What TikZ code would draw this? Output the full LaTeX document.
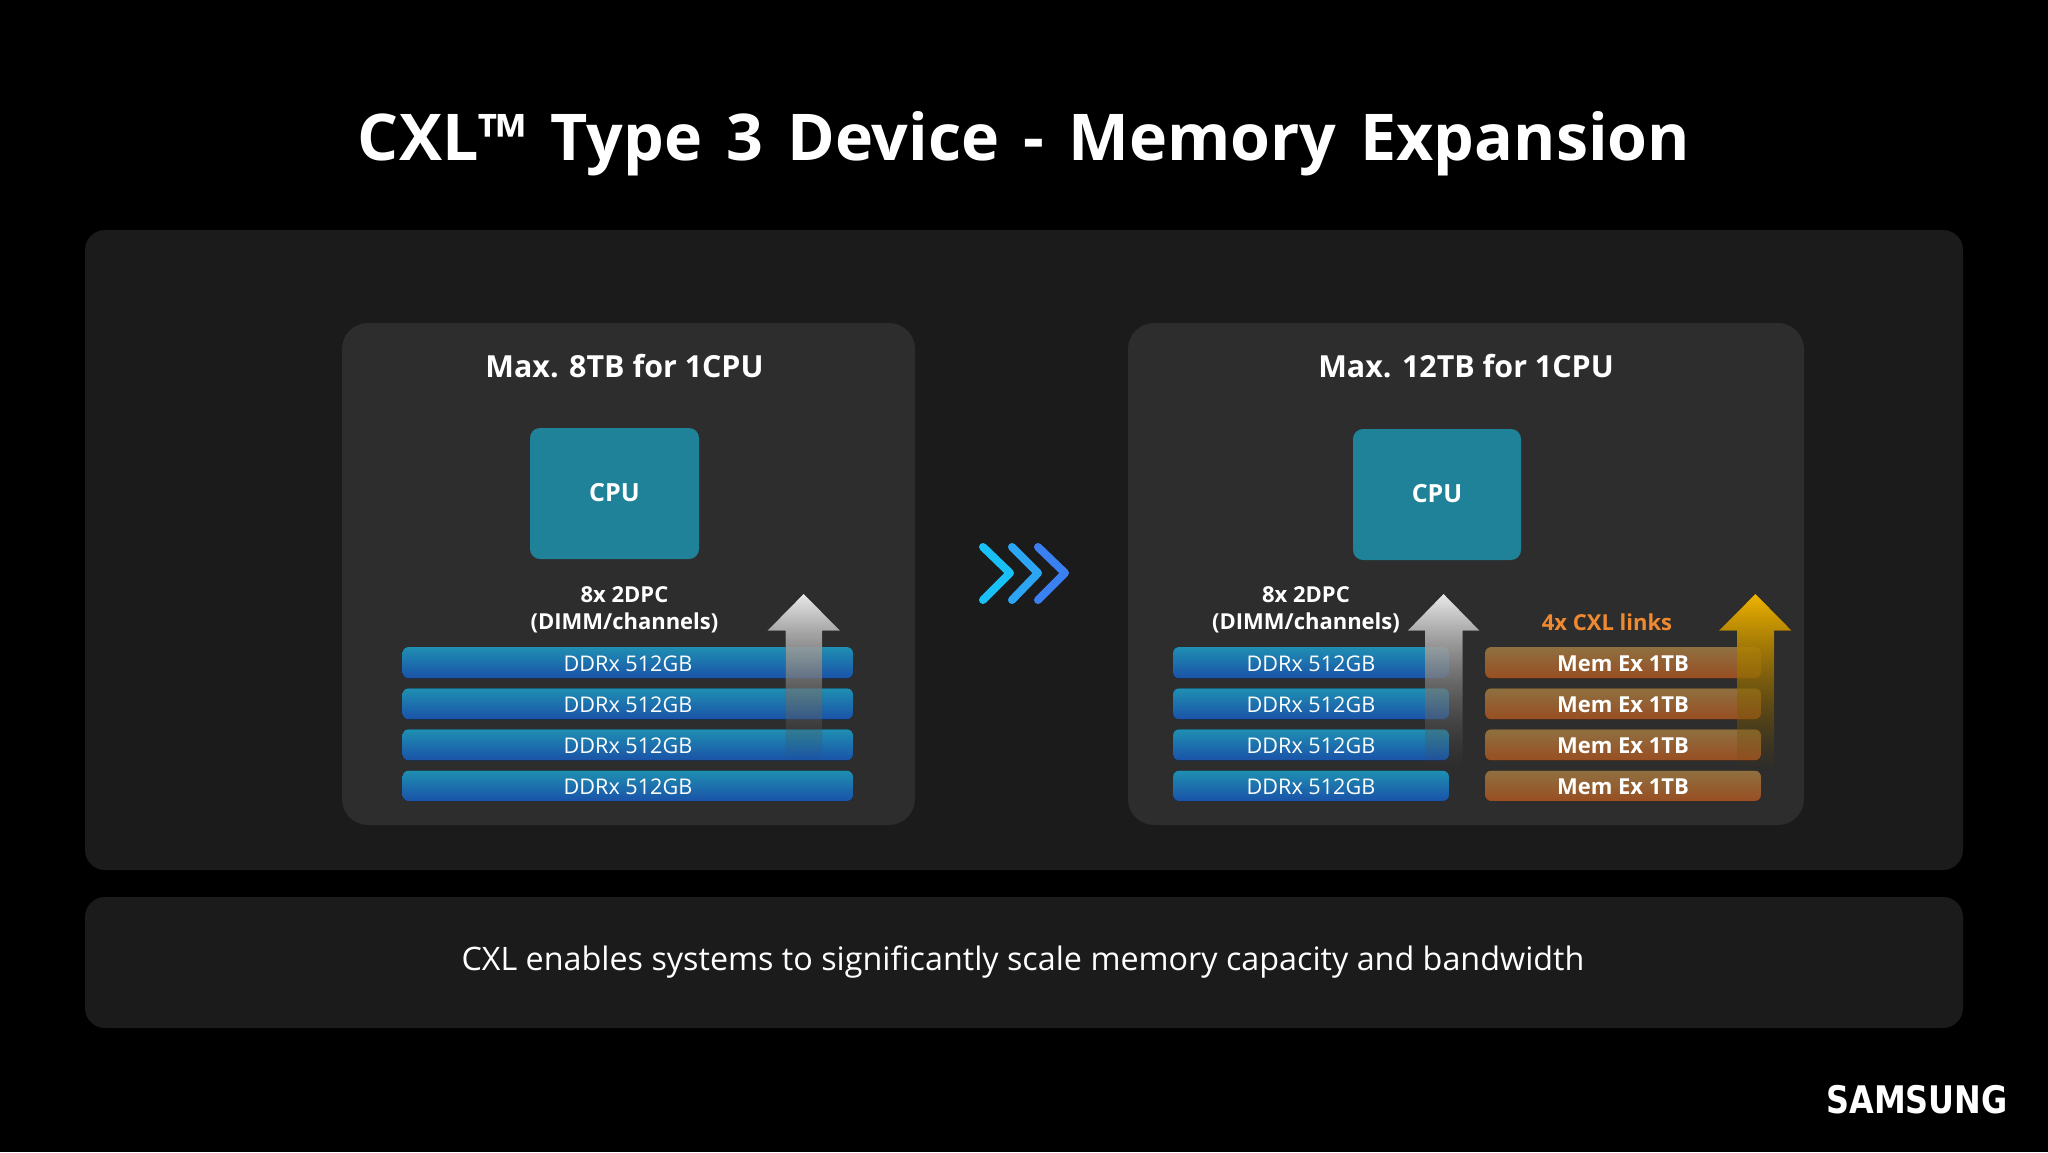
\documentclass[tikz,border=0pt]{standalone}
\usepackage{fontspec}
\setmainfont{Open Sans}
\newfontfamily\logofont{DejaVu Sans}
\usetikzlibrary{fadings}
\definecolor{bgblack}{HTML}{000000}
\definecolor{outerpanel}{HTML}{1B1B1B}
\definecolor{innerpanel}{HTML}{2D2D2D}
\definecolor{cpuc}{HTML}{1F8299}
\definecolor{ddrtop}{HTML}{1F8FB2}
\definecolor{ddrbot}{HTML}{1A52A8}
\definecolor{memtop}{HTML}{8F7040}
\definecolor{membot}{HTML}{984E22}
\definecolor{cxlorange}{HTML}{F08A30}
\definecolor{goldtop}{HTML}{F0B400}
\definecolor{goldbot}{HTML}{C08A10}
\newcommand{\fs}[1]{\fontsize{#1}{#1}\selectfont}
\tikzfading[name=arrowfade, top color=transparent!0, bottom color=transparent!100]
\tikzset{
  x=1pt,y=-1pt,
  outerbox/.style={fill=outerpanel,rounded corners=20pt},
  innerbox/.style={fill=innerpanel,rounded corners=26pt},
  cpubox/.style={fill=cpuc,rounded corners=10pt},
  ddrbar/.style={rounded corners=6pt,top color=ddrtop,bottom color=ddrbot},
  membar/.style={rounded corners=6pt,top color=memtop,bottom color=membot},
  lbl/.style={text=white,inner sep=0pt,align=center},
  whitearrow/.style={top color=white!92!black,bottom color=white!55!black,path fading=arrowfade},
  goldarrow/.style={top color=goldtop,bottom color=goldbot,path fading=arrowfade},
  chev/.style={line width=8pt,line cap=round,line join=round},
}
\begin{document}
\begin{tikzpicture}
\fill[bgblack] (0,0) rectangle (2048,1152);
\useasboundingbox (0,0) rectangle (2048,1152);
\node[lbl,font=\fs{64.5}\bfseries] (title) at (1024,144) {\spaceskip=24pt CXL™ Type 3 Device - Memory Expansion};
% panels
\fill[outerbox] (85,230) rectangle (1963,870);
\fill[outerbox] (85,897) rectangle (1963,1028);
\node[lbl,font=\fs{32.3}] (caption) at (1023,962) {CXL enables systems to significantly scale memory capacity and bandwidth};
\fill[innerbox] (342,323) rectangle (915,825);
\fill[innerbox] (1128,323) rectangle (1804,825);
\node[lbl,font=\fs{30.4}\bfseries] (lefttitle) at (624.5,366) {Max. 8TB for 1CPU};
\node[lbl,font=\fs{30.4}\bfseries] (righttitle) at (1466,366) {Max. 12TB for 1CPU};
% CPUs
\fill[cpubox] (530,428) rectangle (699,559);
\node[lbl,font=\fs{25}\bfseries] (cpuL) at (614.5,493) {CPU};
\fill[cpubox] (1353,429) rectangle (1521,560);
\node[lbl,font=\fs{25}\bfseries] (cpuR) at (1437,494) {CPU};
% labels
\node[lbl,font=\fs{22}\bfseries] (dimmL1) at (624.5,595) {8x 2DPC};
\node[lbl,font=\fs{22}\bfseries] (dimmL2) at (624.5,623) {(DIMM/channels)};
\node[lbl,font=\fs{22}\bfseries] (dimmR1) at (1306,595) {8x 2DPC};
\node[lbl,font=\fs{22}\bfseries] (dimmR2) at (1306,623) {(DIMM/channels)};
\node[lbl,font=\fs{22}\bfseries,text=cxlorange] (cxl) at (1607,622) {4x CXL links};
% bars
\foreach \ya/\yb in {647/678.3,688.3/719.3,729.3/760.3,770.7/801}{
  \fill[ddrbar] (402.5,\ya) rectangle (853,\yb);
  \fill[ddrbar] (1173,\ya) rectangle (1449,\yb);
  \fill[membar] (1485,\ya) rectangle (1761,\yb);
}
% block arrows
\fill[whitearrow] (803.6,594) -- (840,630.7) -- (822,630.7) -- (822,760) -- (785.7,760) -- (785.7,630.7) -- (767.5,630.7) -- cycle;
\fill[whitearrow] (1443.5,594) -- (1479.5,630.7) -- (1462.6,630.7) -- (1462.6,770) -- (1425,770) -- (1425,630.7) -- (1407.7,630.7) -- cycle;
\fill[goldarrow] (1755.4,594) -- (1791.6,630.7) -- (1774,630.7) -- (1774,770) -- (1737,770) -- (1737,630.7) -- (1719,630.7) -- cycle;
% bar texts
\node[lbl,font=\fs{21.6}] (dl1) at (628,664) {DDRx 512GB};
\node[lbl,font=\fs{21.6}] (dl2) at (628,705) {DDRx 512GB};
\node[lbl,font=\fs{21.6}] (dl3) at (628,746) {DDRx 512GB};
\node[lbl,font=\fs{21.6}] (dl4) at (628,787) {DDRx 512GB};
\node[lbl,font=\fs{21.6}] (dr1) at (1311,664) {DDRx 512GB};
\node[lbl,font=\fs{21.6}] (dr2) at (1311,705) {DDRx 512GB};
\node[lbl,font=\fs{21.6}] (dr3) at (1311,746) {DDRx 512GB};
\node[lbl,font=\fs{21.6}] (dr4) at (1311,787) {DDRx 512GB};
\node[lbl,font=\fs{22}\bfseries] (m1) at (1623,664) {Mem Ex 1TB};
\node[lbl,font=\fs{22}\bfseries] (m2) at (1623,705) {Mem Ex 1TB};
\node[lbl,font=\fs{22}\bfseries] (m3) at (1623,746) {Mem Ex 1TB};
\node[lbl,font=\fs{22}\bfseries] (m4) at (1623,787) {Mem Ex 1TB};
% chevrons
\draw[chev,color={rgb,255:red,24;green,192;blue,245}] (983,547) -- (1010,573) -- (983,600);
\draw[chev,color={rgb,255:red,44;green,165;blue,245}] (1012,547) -- (1038,573) -- (1012,600);
\draw[chev,color={rgb,255:red,58;green,128;blue,240}] (1038,547) -- (1065,573) -- (1038,600);
% logo
\node[lbl,font=\logofont\fs{38}\bfseries,xscale=0.84] (logo) at (1917,1100) {SAMSUNG};
\end{tikzpicture}
\end{document}
